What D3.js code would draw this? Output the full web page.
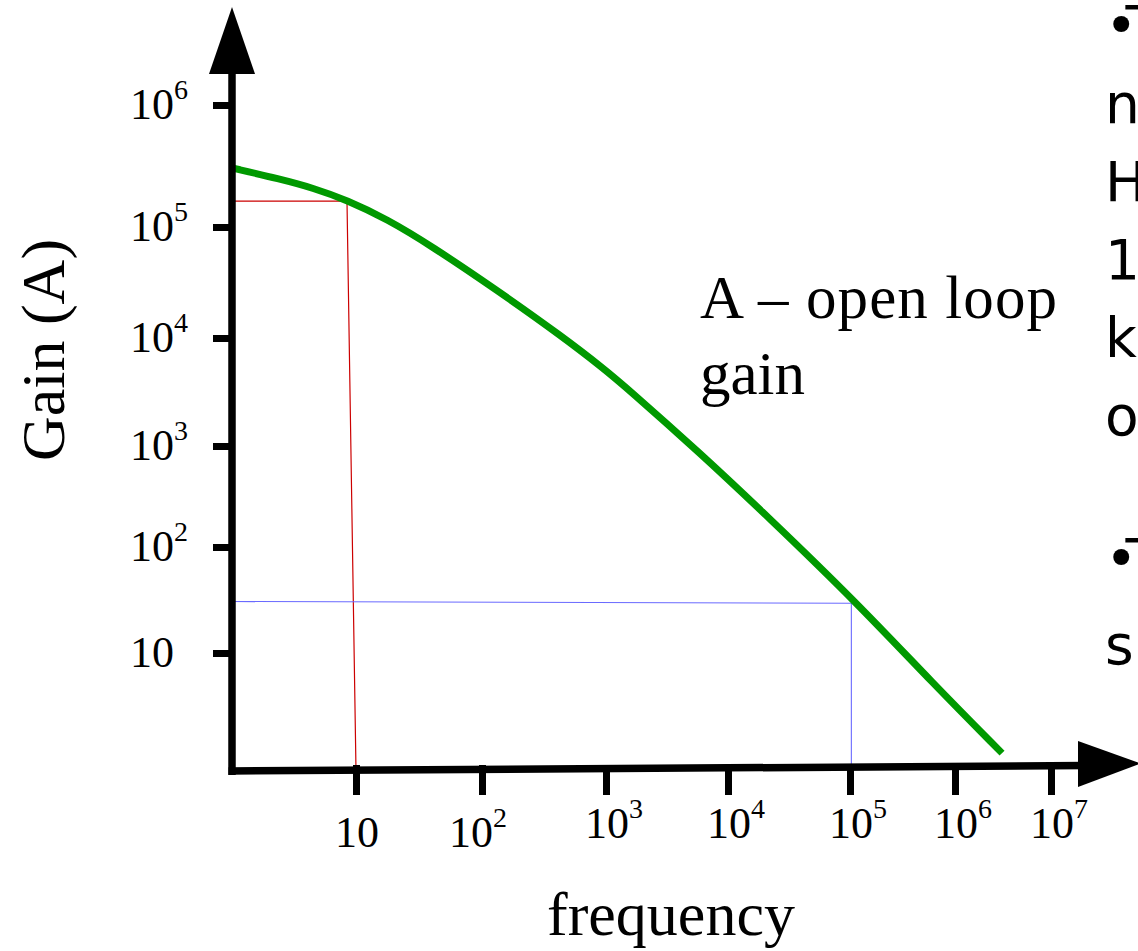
<!DOCTYPE html>
<html>
<head>
<meta charset="utf-8">
<script src="https://cdn.jsdelivr.net/npm/d3@7"></script>
<style>
  body { margin: 0; background: #fff; overflow: hidden; }
  svg { display: block; }
  .serif { font-family: "Liberation Serif", "Times New Roman", serif; fill: #000; }
  .note { font-family: "DejaVu Sans", sans-serif; fill: #000; }
</style>
</head>
<body>
<svg width="1138" height="951"></svg>
<script>
// open loop gain curve
const freq = [1.0, 2.44, 4.5, 8.46, 17.6, 38.7, 132, 450, 946, 1486, 5890, 20900, 117000, 617000, 3090000];
const gain = [305000, 247000, 209000, 166000, 116000, 68800, 27000, 10200, 5270, 3440, 853, 203, 29.6, 5.2, 1.16];

// tick values and labels ("10^n" -> 10 with superscript n)
const freqTicks = [10, 1e2, 1e3, 1e4, 1e5, 1e6, 1e7];
const freqTickLabels = ["10", "10^2", "10^3", "10^4", "10^5", "10^6", "10^7"];
const gainTicks = [10, 1e2, 1e3, 1e4, 1e5, 1e6];
const gainTickLabels = ["10", "10^2", "10^3", "10^4", "10^5", "10^6"];

// guide lines: corner (red) and the point near 10^5 Hz (blue)
const cornerFreq = [8.46, 10];     // top, foot of the drop line
const cornerGain = 163000;
const gbwFreq = 103000;
const gbwGain = [30.6, 29.5];      // at y axis, at drop line

// cut-off notes on the right edge (bullet lines start with "•")
const notes1 = ["•The open loop gain A is", "nearly constant up to a few", "Hz, then it falls off", "10 times per decade", "kilohertz onwards, a roll-off", "of 20 dB per decade"];
const notes2 = ["•The gain-bandwidth product", "signal gain stays the same"];

const svg = d3.select("svg");

// hand drawn axes: decades are not evenly spaced, so piecewise log scales
const x = d3.scaleLog()
  .domain([1].concat(freqTicks))
  .range([232, 356, 482, 606, 728, 850, 955, 1051]);
const y = d3.scaleLog()
  .domain([1].concat(gainTicks))
  .range([760, 653, 547, 446, 338, 227, 105]);

const axisLeftX = 232, axisBottomY = 771;

// guides
svg.append("path")
  .attr("fill", "none")
  .attr("stroke", "#cc0000")
  .attr("stroke-width", 1.2)
  .attr("d", "M" + axisLeftX + "," + y(cornerGain) +
    "L" + x(cornerFreq[0]) + "," + y(cornerGain) +
    "L" + x(cornerFreq[1]) + "," + axisBottomY);

svg.append("path")
  .attr("fill", "none")
  .attr("stroke", "#6a6aff")
  .attr("stroke-width", 1.1)
  .attr("d", "M" + axisLeftX + "," + y(gbwGain[0]) +
    "L" + x(gbwFreq) + "," + y(gbwGain[1]) +
    "L" + x(gbwFreq) + "," + axisBottomY);

// curve
const line = d3.line()
  .x(d => x(d[0]))
  .y(d => y(d[1]))
  .curve(d3.curveBasis);

svg.append("path")
  .datum(d3.zip(freq, gain))
  .attr("fill", "none")
  .attr("stroke", "#009900")
  .attr("stroke-width", 7)
  .attr("d", line);

// y axis
const gy = svg.append("g")
  .attr("transform", "translate(" + axisLeftX + ",0)")
  .call(d3.axisLeft(y).tickValues(gainTicks).tickSize(19).tickFormat(""));
gy.select(".domain").remove();
gy.selectAll(".tick line").attr("stroke", "#000").attr("stroke-width", 7);

svg.append("line")
  .attr("x1", axisLeftX).attr("x2", axisLeftX)
  .attr("y1", 60).attr("y2", 775)
  .attr("stroke", "#000").attr("stroke-width", 7.5);
svg.append("path")
  .attr("d", "M232,7L255,74L209,74Z")
  .attr("fill", "#000");

// x axis (slightly tilted in the original)
const gx = svg.append("g")
  .attr("transform", "translate(0,765)")
  .call(d3.axisBottom(x).tickValues(freqTicks).tickSize(30).tickFormat(""));
gx.select(".domain").remove();
gx.selectAll(".tick line").attr("stroke", "#000").attr("stroke-width", 7);

svg.append("line")
  .attr("x1", 228.5).attr("y1", axisBottomY)
  .attr("x2", 1085).attr("y2", 765.6)
  .attr("stroke", "#000").attr("stroke-width", 7.5);
svg.append("path")
  .attr("d", "M1141,763.5L1078,741L1078,787Z")
  .attr("fill", "#000");

// tick labels with superscripts
function label(sel, s) {
  const parts = s.split("^");
  sel.append("tspan").text(parts[0]);
  if (parts[1]) {
    sel.append("tspan")
      .attr("dy", -20)
      .attr("font-size", 28)
      .text(parts[1]);
  }
}

svg.append("g").selectAll("text")
  .data(gainTicks)
  .join("text")
  .attr("class", "serif")
  .attr("font-size", 44)
  .attr("x", 130)
  .attr("y", d => y(d) + 14)
  .each(function(d, i) { label(d3.select(this), gainTickLabels[i]); });

svg.append("g").selectAll("text")
  .data(freqTicks)
  .join("text")
  .attr("class", "serif")
  .attr("font-size", 44)
  .attr("x", (d, i) => x(d) - (i == 1 ? 33 : 21))
  .attr("y", (d, i) => i < 2 ? 847 : 838)
  .each(function(d, i) { label(d3.select(this), freqTickLabels[i]); });

// titles
svg.append("text")
  .attr("class", "serif")
  .attr("font-size", 62)
  .attr("text-anchor", "middle")
  .attr("transform", "translate(64,350) rotate(-90)")
  .text("Gain (A)");

svg.append("text")
  .attr("class", "serif")
  .attr("font-size", 62)
  .attr("text-anchor", "middle")
  .attr("x", 671).attr("y", 935)
  .text("frequency");

svg.append("text")
  .attr("class", "serif")
  .attr("font-size", 61)
  .attr("x", 700).attr("y", 318)
  .attr("textLength", 357)
  .attr("lengthAdjust", "spacing")
  .text("A – open loop");
svg.append("text")
  .attr("class", "serif")
  .attr("font-size", 61)
  .attr("x", 700).attr("y", 394)
  .text("gain");

// notes, clipped by the right edge
function note(sel, s) {
  if (s[0] == "•") {
    sel.append("tspan").text("•");
    sel.append("tspan").attr("dx", -12).text(s.slice(1));
  } else {
    sel.text(s);
  }
}

svg.append("g").selectAll("text")
  .data(notes1)
  .join("text")
  .attr("class", "note")
  .attr("font-size", 55)
  .attr("x", 1105)
  .attr("y", (d, i) => 45 + i * 78)
  .each(function(d) { note(d3.select(this), d); });

svg.append("g").selectAll("text")
  .data(notes2)
  .join("text")
  .attr("class", "note")
  .attr("font-size", 55)
  .attr("x", 1105)
  .attr("y", (d, i) => 578 + i * 86)
  .each(function(d) { note(d3.select(this), d); });
</script>
</body>
</html>
